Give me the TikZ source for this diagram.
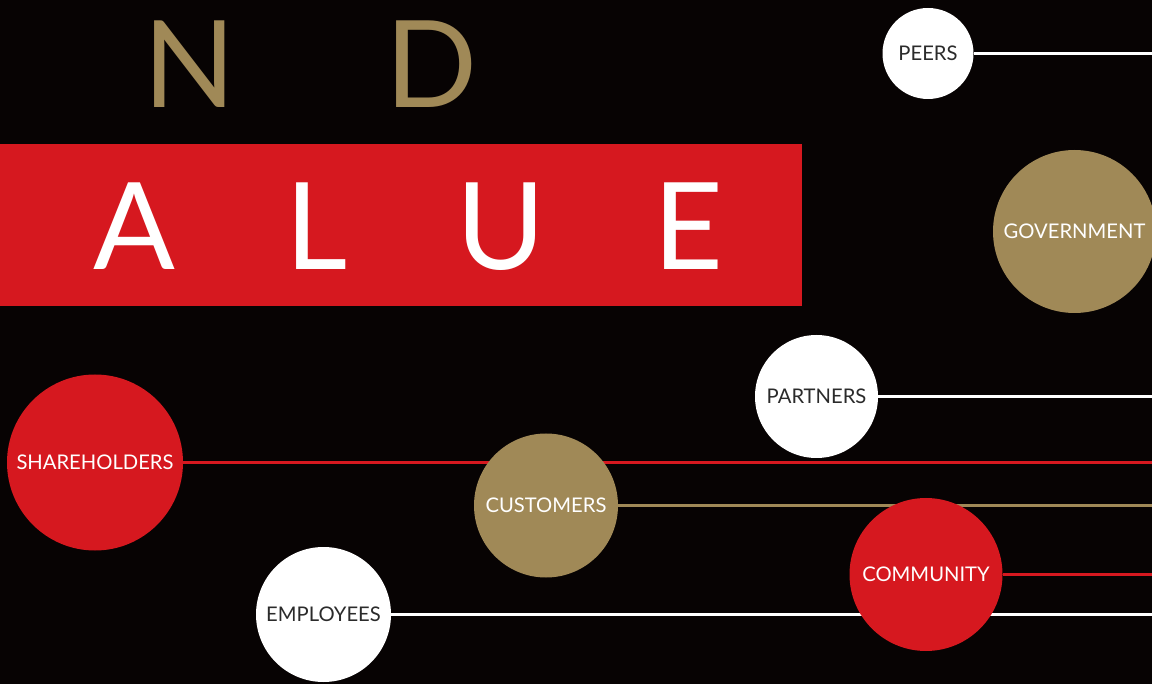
\documentclass[tikz,border=0pt]{standalone}
\usepackage{fontspec}
\setmainfont{Lato}
\newfontfamily\labelfont{Lato}
\definecolor{bgblack}{HTML}{070303}
\definecolor{brandred}{HTML}{D6181F}
\definecolor{brandgold}{HTML}{A08957}
\definecolor{inkgray}{HTML}{2B2B2B}
\pgfdeclarelayer{back}
\pgfdeclarelayer{wires}
\pgfsetlayers{back,wires,main}
\tikzset{
  bigletter/.style={inner sep=0pt, anchor=base, font=\fontsize{121}{121}\selectfont},
  stakeholder/.style={circle, inner sep=0pt, font=\labelfont\fontsize{20.2}{20.2}\selectfont},
  whitedot/.style={stakeholder, fill=white, text=inkgray},
  reddot/.style={stakeholder, fill=brandred, text=white},
  golddot/.style={stakeholder, fill=brandgold, text=white},
  wire/.style={line width=2.6pt},
}
\begin{document}
\begin{tikzpicture}[x=1pt,y=-1pt]
\useasboundingbox (0,0) rectangle (1152,684);
\begin{pgfonlayer}{back}
  \fill[bgblack] (0,0) rectangle (1152,684);
\end{pgfonlayer}

% headline letters
\node[bigletter, text=brandgold] (n) at (189.5,108) {N};
\node[bigletter, text=brandgold] (d) at (431.5,108) {D};
\fill[brandred] (0,144) rectangle (802,306);
\node[bigletter, text=white] (a) at (134,270) {A};
\node[bigletter, text=white] (l) at (317,270) {L};
\node[bigletter, text=white] (u) at (501,270) {U};
\node[bigletter, text=white] (e) at (688,270) {E};

% stakeholder circles
\node[whitedot, minimum size=91pt]  (peers)        at (928,53.5)    {PEERS};
\node[golddot,  minimum size=163pt] (government)   at (1074.5,231.5) {GOVERNMENT};
\node[whitedot, minimum size=123pt] (partners)     at (816.5,396.5) {PARTNERS};
\node[reddot,   minimum size=176pt] (shareholders) at (95,462.5)    {SHAREHOLDERS};
\node[golddot,  minimum size=144pt] (customers)    at (546,505.5)   {CUSTOMERS};
\node[reddot,   minimum size=153pt] (community)    at (926,574.5)   {COMMUNITY};
\node[whitedot, minimum size=135pt] (employees)    at (323.5,614.5) {EMPLOYEES};

% line ends at the right edge
\coordinate (peersEnd)        at (1152,53.5);
\coordinate (partnersEnd)     at (1152,396.5);
\coordinate (shareholdersEnd) at (1152,462.5);
\coordinate (customersEnd)    at (1152,505.5);
\coordinate (communityEnd)    at (1152,574.5);
\coordinate (employeesEnd)    at (1152,614.5);

\begin{pgfonlayer}{wires}
  \draw[wire, white]      (peers.east)        -- (peersEnd);
  \draw[wire, white]      (partners.east)     -- (partnersEnd);
  \draw[wire, brandred]   (shareholders.east) -- (shareholdersEnd);
  \draw[wire, brandgold]  (customers.east)    -- (customersEnd);
  \draw[wire, brandred]   (community.east)    -- (communityEnd);
  \draw[wire, white]      (employees.east)    -- (employeesEnd);
\end{pgfonlayer}
\end{tikzpicture}
\end{document}
